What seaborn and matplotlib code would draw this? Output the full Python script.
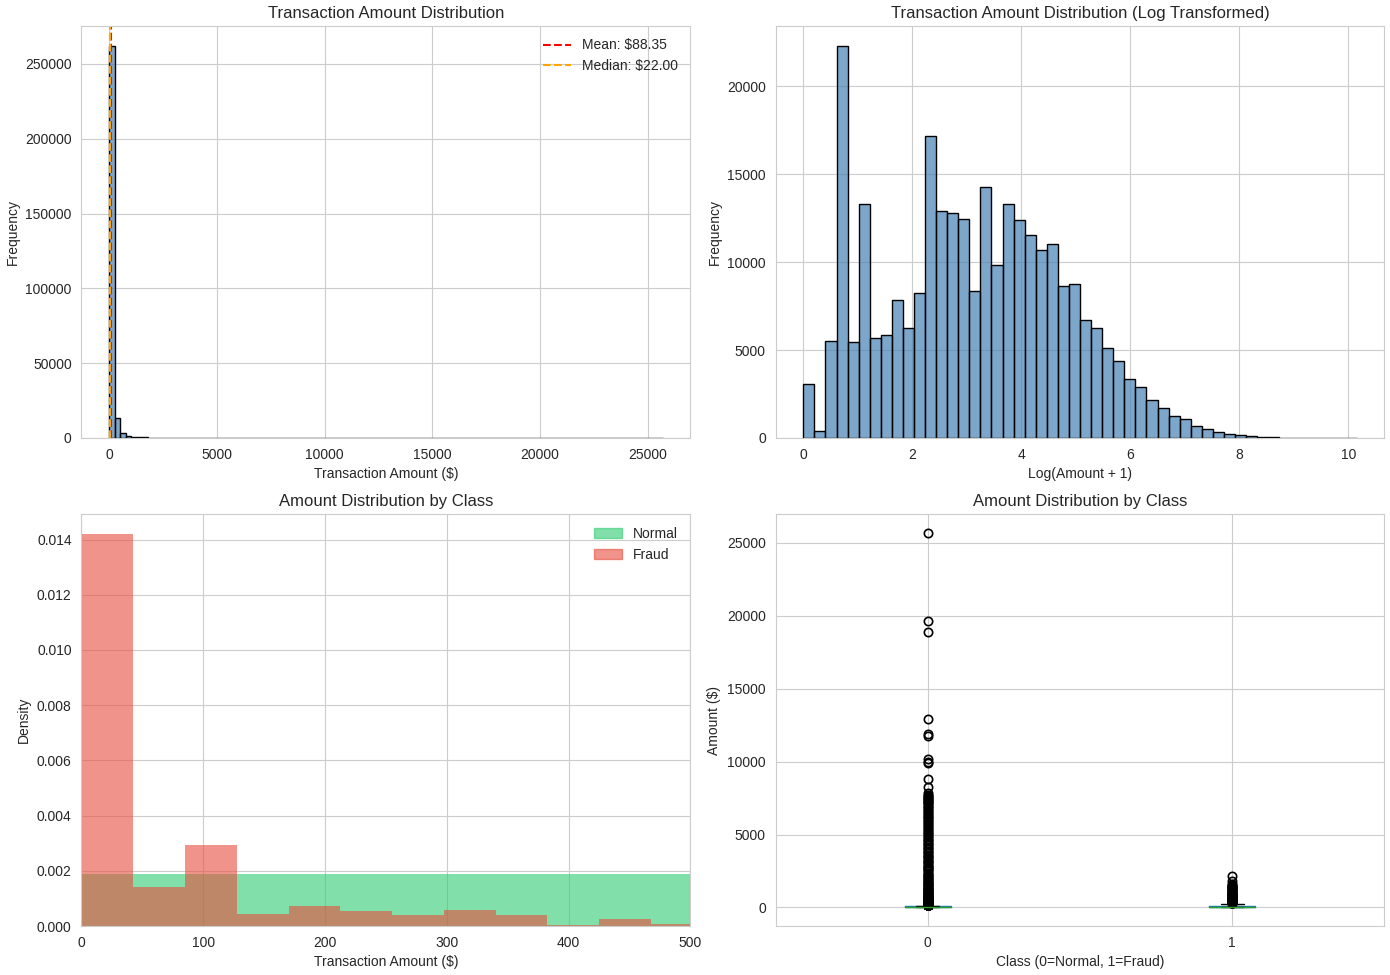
import numpy as np
import pandas as pd
import seaborn as sns
import matplotlib
matplotlib.use("Agg")
import matplotlib.pyplot as plt
from matplotlib.patches import Patch

sns.set_style("whitegrid")
plt.rcParams["font.family"] = ["Liberation Sans", "DejaVu Sans"]

# --- data ---
amount_max = 25691.16
mean_amount = 88.35
median_amount = 22.00

# 100 equal bins over 0..amount_max
amount_counts = [
    262300, 13100, 3400, 1500, 850, 560, 380, 260, 180, 130,
    95, 70, 45, 30, 20, 14, 10, 7, 5, 4,
    3, 3, 2, 2, 2, 1, 1, 1, 1, 1,
    1, 0, 1, 0, 1, 0, 0, 0, 1, 1,
    0, 0, 0, 0, 0, 1, 1, 0, 0, 0,
    1, 0, 0, 0, 0, 0, 0, 0, 0, 0,
    0, 0, 0, 0, 0, 0, 0, 0, 0, 0,
    0, 0, 0, 1, 0, 0, 1, 0, 0, 0,
    0, 0, 0, 0, 0, 0, 0, 0, 0, 0,
    0, 0, 0, 0, 0, 0, 0, 0, 0, 1,
]

# 50 equal bins over 0..log1p(amount_max)
log_counts = [
    3070, 380, 5540, 22320, 5430, 13300, 5660, 5870, 7870, 6270,
    8230, 17180, 12900, 12780, 12440, 8380, 14270, 9810, 13300, 12380,
    11520, 10670, 11010, 8670, 8780, 6720, 6270, 5120, 4380, 3350,
    2910, 2150, 1700, 1260, 1070, 670, 495, 325, 230, 152,
    95, 57, 38, 25, 15, 8, 3, 0, 2, 1,
]

# density histograms (50 bins each), only the bins inside 0..500 matter
normal_density = [0.001879, 0.0000290, 0.0000060]
fraud_max = 2125.87
fraud_density = [
    0.01421, 0.001418, 0.002933, 0.000424, 0.000715, 0.000545,
    0.000388, 0.000582, 0.000388, 0.0000485, 0.000255, 0.0000848,
]

# box plot: quartile anchors + outliers per class
classes = ["0", "1"]
normal_box = [0.0, 5.65, 22.0, 77.05, 184.51]
fraud_box = [0.0, 1.0, 9.25, 105.89, 256.0]
box_repeat = 600
normal_outliers = [
    185.2, 192.0, 199.9, 214.5, 230.0, 247.1, 265.5, 282.0, 301.0, 324.9,
    349.9, 371.3, 398.0, 425.0, 455.0, 481.2, 510.0, 544.4, 579.9, 612.0,
    650.0, 684.1, 720.4, 760.0, 801.0, 845.0, 889.9, 930.0, 975.0, 1018.0,
    1060.0, 1105.6, 1150.5, 1199.0, 1250.0, 1299.9, 1349.0, 1402.2, 1459.9, 1515.0,
    1580.0, 1640.0, 1700.0, 1760.5, 1823.0, 1885.0, 1950.0, 2020.0, 2095.0, 2165.0,
    2240.0, 2312.0, 2390.0, 2466.0, 2545.0, 2620.0, 2700.0, 2780.0, 2860.0, 2940.0,
    3020.0, 3105.0, 3190.0, 3275.0, 3360.0, 3445.0, 3530.0, 3615.0, 3700.0, 3795.0,
    3890.0, 3975.0, 4060.0, 4155.0, 4250.0, 4345.0, 4440.0, 4530.0, 4620.0, 4715.0,
    4810.0, 4910.0, 5010.0, 5105.0, 5200.0, 5305.0, 5410.0, 5505.0, 5600.0, 5700.0,
    5800.0, 5900.0, 6000.0, 6100.0, 6200.0, 6300.0, 6400.0, 6500.0, 6600.0, 6700.0,
    6800.0, 6890.0, 6982.4, 7070.0, 7160.0, 7230.0, 7300.0, 7365.0, 7429.9, 7500.0,
    7575.6, 7640.0, 7712.4, 7879.4, 8265.0, 8790.3,
    9931.0, 10000.0, 10199.4, 11789.8, 11898.1, 12910.9, 18910.0, 19656.5, 25691.2,
]
fraud_outliers = [
    262.0, 271.0, 280.0, 288.0, 296.0, 303.0, 310.4, 317.0, 324.6, 340.0,
    354.3, 362.6, 376.0, 390.0, 405.0, 420.0, 432.0, 444.2, 454.8, 467.0,
    480.7, 496.0, 512.3, 529.0, 545.0, 560.0, 576.0, 592.9, 613.0, 634.3,
    657.0, 680.0, 696.0, 712.3, 723.2, 745.0, 766.4, 776.8, 800.0, 829.4,
    855.0, 880.0, 902.0, 925.3, 960.0, 996.3, 1045.0, 1096.99, 1150.0, 1218.9,
    1275.0, 1335.0, 1354.3, 1389.6, 1402.2, 1450.0, 1504.9, 1600.0, 1809.7, 2125.9,
]


def binned(lo, hi, heights):
    # one row per bin: centre and height, used as weights by histplot
    edges = np.linspace(lo, hi, len(heights) + 1)
    return pd.DataFrame({"x": (edges[:-1] + edges[1:]) / 2,
                         "w": np.asarray(heights, dtype=float)})


def hist_bars(ax, lo, hi, heights, **kws):
    sns.histplot(data=binned(lo, hi, heights), x="x", weights="w",
                 bins=len(heights), binrange=(lo, hi), ax=ax, **kws)


fig, axes = plt.subplots(2, 2, figsize=(13.9, 9.75))

# 1. raw amount histogram
ax = axes[0, 0]
hist_bars(ax, 0, amount_max, amount_counts,
          color="steelblue", edgecolor="black", alpha=0.7, linewidth=1)
ax.axvline(mean_amount, color="red", linestyle="--", linewidth=1.5,
           label=f"Mean: ${mean_amount:.2f}")
ax.axvline(median_amount, color="orange", linestyle="--", linewidth=1.5,
           label=f"Median: ${median_amount:.2f}")
ax.set_title("Transaction Amount Distribution")
ax.set_xlabel("Transaction Amount ($)")
ax.set_ylabel("Frequency")
ax.legend(loc="upper right", frameon=False)

# 2. log transformed
ax = axes[0, 1]
hist_bars(ax, 0, np.log1p(amount_max), log_counts,
          color="steelblue", edgecolor="black", alpha=0.7, linewidth=1)
ax.set_title("Transaction Amount Distribution (Log Transformed)")
ax.set_xlabel("Log(Amount + 1)")
ax.set_ylabel("Frequency")

# 3. density by class
ax = axes[1, 0]
hist_bars(ax, 0, amount_max / 50 * len(normal_density), normal_density,
          color="#2ecc71", alpha=0.6, linewidth=0)
hist_bars(ax, 0, fraud_max / 50 * len(fraud_density), fraud_density,
          color="#e74c3c", alpha=0.6, linewidth=0)
ax.set_xlim(0, 500)
ax.set_title("Amount Distribution by Class")
ax.set_xlabel("Transaction Amount ($)")
ax.set_ylabel("Density")
ax.legend(handles=[Patch(color="#2ecc71", alpha=0.6, label="Normal"),
                   Patch(color="#e74c3c", alpha=0.6, label="Fraud")],
          loc="upper right", frameon=False)

# 4. box plot by class
ax = axes[1, 1]
box_df = pd.DataFrame({
    "Class": ["0"] * (len(normal_box) * box_repeat + len(normal_outliers))
    + ["1"] * (len(fraud_box) * box_repeat + len(fraud_outliers)),
    "Amount": np.concatenate([np.repeat(normal_box, box_repeat), normal_outliers,
                              np.repeat(fraud_box, box_repeat), fraud_outliers]),
})
sns.boxplot(data=box_df, x="Class", y="Amount", order=classes, ax=ax,
            width=0.15, fill=False, linecolor="#1f77b4", linewidth=1,
            medianprops=dict(color="#2ca02c"),
            capprops=dict(color="black"),
            flierprops=dict(marker="o", markerfacecolor="none",
                            markeredgecolor="black", markersize=6,
                            markeredgewidth=1.2))
ax.xaxis.grid(True)
ax.set_xlim(-0.5, 1.5)
ax.set_title("Amount Distribution by Class")
ax.set_xlabel("Class (0=Normal, 1=Fraud)")
ax.set_ylabel("Amount ($)")

plt.tight_layout(pad=0.4, h_pad=0.9)
plt.savefig("out.png", dpi=100)
